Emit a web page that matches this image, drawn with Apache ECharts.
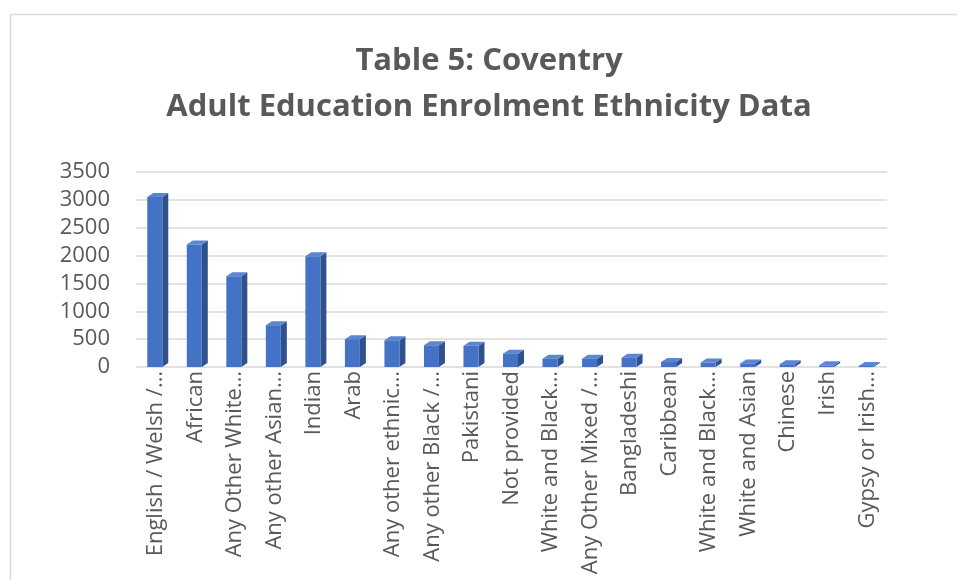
<!DOCTYPE html>
<html>
<head>
<meta charset="utf-8">
<script src="https://cdn.jsdelivr.net/npm/echarts@6/dist/echarts.min.js"></script>
<style>
html,body{margin:0;padding:0;background:#fff;}
#chart{width:957px;height:580px;}
</style>
</head>
<body>
<div id="chart"></div>
<script>
var categories = ["English / Welsh /…","African","Any Other White…","Any other Asian…","Indian","Arab","Any other ethnic…","Any other Black /…","Pakistani","Not provided","White and Black…","Any Other Mixed /…","Bangladeshi","Caribbean","White and Black…","White and Asian","Chinese","Irish","Gypsy or Irish…"];
var values = [3050,2200,1630,750,1990,500,480,390,380,240,150,150,168,90,80,65,50,30,20];
var yTicks = [0,500,1000,1500,2000,2500,3000,3500];
var titleLines = ['Table 5: Coventry','Adult Education Enrolment Ethnicity Data'];

var chart = echarts.init(document.getElementById('chart'));
var FRONT = '#4472C4', SIDE = '#2F528F', TOP = '#5B86D2';
var BW = 15, DX = 6, DY = 4;
chart.setOption({
  backgroundColor:'#fff',
  animation:false,
  graphic:[
    {type:'rect', shape:{x:10.5,y:14.5,width:960,height:600}, style:{fill:'none', stroke:'#D9D9D9', lineWidth:1.5}, silent:true},
    {type:'text', x:489, y:61, silent:true, style:{text:titleLines[0], textAlign:'center', textVerticalAlign:'middle', font:'bold 31px "Open Sans"', fill:'#595959'}},
    {type:'text', x:489, y:107, silent:true, style:{text:titleLines[1], textAlign:'center', textVerticalAlign:'middle', font:'bold 31px "Open Sans"', fill:'#595959'}}
  ],
  grid:{left:136, right:70, top:172, bottom:213, containLabel:false},
  xAxis:{
    type:'category', data:categories,
    axisLine:{show:false}, axisTick:{show:false},
    axisLabel:{rotate:90, interval:0, fontFamily:'Open Sans', fontSize:22, color:'#595959', margin:4}
  },
  yAxis:{
    type:'value', min:yTicks[0], max:yTicks[yTicks.length-1], interval:500,
    axisLine:{show:false}, axisTick:{show:false},
    splitLine:{lineStyle:{color:'#D9D9D9', width:1.5}},
    axisLabel:{fontFamily:'Open Sans', fontSize:22, color:'#595959', margin:26, formatter:function(v){return String(v);}}
  },
  series:[{
    type:'custom',
    data: values.map(function(v,i){return [i,v];}),
    encode:{x:0,y:1},
    renderItem:function(params, api){
      var top = api.coord([api.value(0), api.value(1)]);
      var base = api.coord([api.value(0), 0]);
      var x0 = top[0] - BW/2 - 1, x1 = x0 + BW;
      var yt = top[1], yb = base[1];
      return {type:'group', children:[
        {type:'polygon', shape:{points:[[x1,yt],[x1+DX,yt-DY],[x1+DX,yb-DY],[x1,yb]]}, style:{fill:SIDE}},
        {type:'polygon', shape:{points:[[x0,yt],[x0+DX,yt-DY],[x1+DX,yt-DY],[x1,yt]]}, style:{fill:TOP}},
        {type:'rect', shape:{x:x0, y:yt, width:BW, height:Math.max(yb-yt,0)}, style:{fill:FRONT}}
      ]};
    }
  }]
});
</script>
</body>
</html>
